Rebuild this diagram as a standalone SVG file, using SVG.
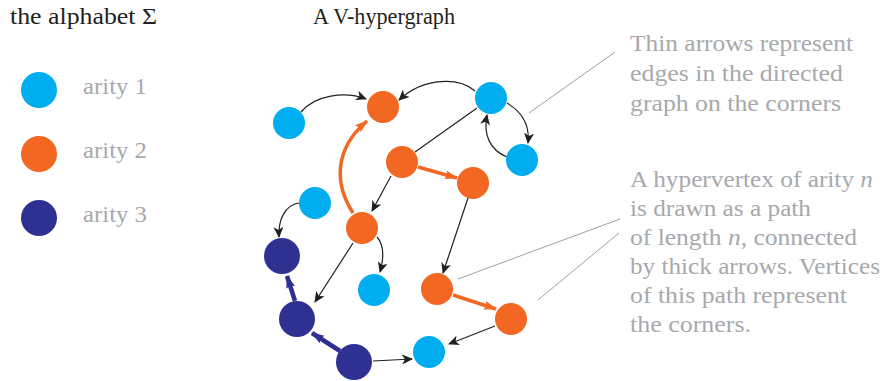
<svg xmlns="http://www.w3.org/2000/svg" width="883" height="381" viewBox="0 0 883 381">
<style>
.b{fill:#00aeef}
.o{fill:#f26722}
.d{fill:#2e3192}
.thin{fill:none;stroke:#231f20;stroke-width:1.2;marker-end:url(#ah)}
.plain{fill:none;stroke:#231f20;stroke-width:1.2}
.to{fill:none;stroke:#f26722;stroke-width:3.5;marker-end:url(#ao)}
.td{fill:none;stroke:#2e3192;stroke-width:4.5;marker-end:url(#ad)}
.lead{fill:none;stroke:#9d9fa2;stroke-width:1}
.t{font-family:"Liberation Serif","DejaVu Serif",serif;font-size:24px}
.g{fill:#a7a9ac}
.k{fill:#231f20}
</style>
<defs>
<marker id="ah" markerUnits="userSpaceOnUse" markerWidth="12" markerHeight="10" refX="10" refY="5" orient="auto" viewBox="0 0 12 10">
<path d="M0,0 L11,5 L0,10 L3,5 z" fill="#231f20"/>
</marker>
<marker id="ao" markerUnits="userSpaceOnUse" markerWidth="14" markerHeight="10" refX="12" refY="5" orient="auto" viewBox="0 0 14 10">
<path d="M0,0.5 L13,5 L0,9.5 L2,5 z" fill="#f26722"/>
</marker>
<marker id="ad" markerUnits="userSpaceOnUse" markerWidth="14" markerHeight="10" refX="12" refY="5" orient="auto" viewBox="0 0 14 10">
<path d="M0,0.5 L13,5 L0,9.5 L2,5 z" fill="#2e3192"/>
</marker>
</defs>

<g id="titles">
<text class="t k" x="10" y="24" textLength="147" lengthAdjust="spacingAndGlyphs">the alphabet Σ</text>
<text class="t k" x="313" y="24" textLength="142" lengthAdjust="spacingAndGlyphs">A V-hypergraph</text>
</g>

<g id="legend">
<g id="legend-arity1"><circle class="b" cx="39" cy="90" r="18"/><text class="t g" x="83" y="94" textLength="64" lengthAdjust="spacingAndGlyphs">arity 1</text></g>
<g id="legend-arity2"><circle class="o" cx="39" cy="154" r="18"/><text class="t g" x="83" y="158" textLength="64" lengthAdjust="spacingAndGlyphs">arity 2</text></g>
<g id="legend-arity3"><circle class="d" cx="39" cy="218" r="18"/><text class="t g" x="83" y="222" textLength="64" lengthAdjust="spacingAndGlyphs">arity 3</text></g>
</g>

<g id="connectors">
<path class="thin" d="M301,112 C315,95 345,91 366,99"/>
<path class="thin" d="M475,91 C460,78 425,76 399,100"/>
<path class="thin" d="M507,103 C522,112 530,125 528,143"/>
<path class="thin" d="M507,157 C490,150 483,135 487,115"/>
<path class="plain" d="M477,108 L415,152"/>
<path class="thin" d="M391,176 L372,211"/>
<path class="to" d="M418,167 L457,178"/>
<path class="thin" d="M468,198 L443,273"/>
<path class="to" d="M453,295 L496,309"/>
<path class="thin" d="M495,326 L449,344"/>
<path class="thin" d="M373,361 L412,359"/>
<path class="td" d="M340,351 L312,333"/>
<path class="td" d="M295,301 L287,276"/>
<path class="to" d="M353,213 C335,185 333,150 367,121"/>
<path class="thin" d="M299,203 C285,205 278,220 279,237"/>
<path class="thin" d="M377,237 C384,245 384,258 380,272"/>
<path class="thin" d="M353,243 L315,302"/>
<path class="lead" d="M615,52 L529,113"/>
<path class="lead" d="M620,219 L458,279"/>
<path class="lead" d="M619,233 L538,300"/>
</g>

<g id="n-A"><circle class="b" cx="289" cy="123" r="16"/></g>
<g id="n-B"><circle class="o" cx="383" cy="107" r="16"/></g>
<g id="n-C"><circle class="b" cx="491" cy="98" r="16"/></g>
<g id="n-D"><circle class="b" cx="522" cy="160" r="16"/></g>
<g id="n-E"><circle class="o" cx="402" cy="162" r="16"/></g>
<g id="n-F"><circle class="o" cx="473" cy="183" r="16"/></g>
<g id="n-G"><circle class="b" cx="315" cy="203" r="16"/></g>
<g id="n-H"><circle class="o" cx="362" cy="228" r="16"/></g>
<g id="n-I"><circle class="d" cx="282" cy="256" r="18"/></g>
<g id="n-J"><circle class="b" cx="374" cy="290" r="16"/></g>
<g id="n-K"><circle class="o" cx="437" cy="289" r="16"/></g>
<g id="n-L"><circle class="o" cx="511" cy="319" r="16"/></g>
<g id="n-M"><circle class="d" cx="297" cy="319" r="18"/></g>
<g id="n-N"><circle class="d" cx="354" cy="362" r="18"/></g>
<g id="n-O"><circle class="b" cx="429" cy="352" r="16"/></g>

<g id="note-thin">
<text class="t g" x="630" y="51" textLength="223" lengthAdjust="spacingAndGlyphs">Thin arrows represent</text>
<text class="t g" x="630" y="81" textLength="213" lengthAdjust="spacingAndGlyphs">edges in the directed</text>
<text class="t g" x="630" y="111" textLength="211" lengthAdjust="spacingAndGlyphs">graph on the corners</text>
</g>
<g id="note-hyper">
<text class="t g" x="630" y="187" textLength="243" lengthAdjust="spacingAndGlyphs">A hypervertex of arity <tspan font-style="italic">n</tspan></text>
<text class="t g" x="630" y="216" textLength="181" lengthAdjust="spacingAndGlyphs">is drawn as a path</text>
<text class="t g" x="630" y="245" textLength="227" lengthAdjust="spacingAndGlyphs">of length <tspan font-style="italic">n</tspan>, connected</text>
<text class="t g" x="630" y="274" textLength="250" lengthAdjust="spacingAndGlyphs">by thick arrows. Vertices</text>
<text class="t g" x="630" y="303" textLength="217" lengthAdjust="spacingAndGlyphs">of this path represent</text>
<text class="t g" x="630" y="332" textLength="121" lengthAdjust="spacingAndGlyphs">the corners.</text>
</g>
</svg>
